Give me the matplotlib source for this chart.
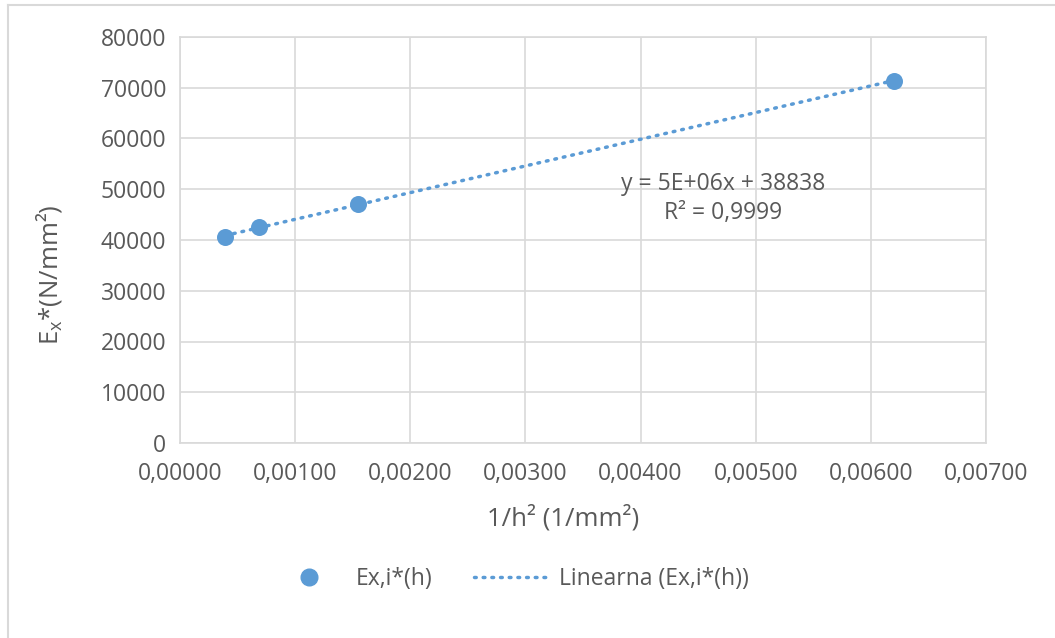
import numpy as np
import matplotlib
matplotlib.use("Agg")
import matplotlib.pyplot as plt
from matplotlib.lines import Line2D
from matplotlib.ticker import FuncFormatter, MultipleLocator

x_vals = [0.000391, 0.000687, 0.00155, 0.00620]
y_vals = [40650, 42560, 47090, 71390]
series_name = "Ex,i*(h)"
trend_name = "Linearna (Ex,i*(h))"
eq_text = "y = 5E+06x + 38838"
r2_text = "R² = 0,9999"

plt.rcParams['font.family'] = ['Open Sans', 'DejaVu Sans']
gray = '#595959'
grid_c = '#d9d9d9'
blue = '#5b9bd5'

W, H = 1055, 638
fig = plt.figure(figsize=(10.55, 6.38), dpi=100)
ax = fig.add_axes([180/W, 1-443/H, (986-180)/W, (443-37)/H])

ax.scatter(x_vals, y_vals, s=150, color=blue, zorder=3, linewidths=0)
coef = np.polyfit(x_vals, y_vals, 1)
xt = np.array([min(x_vals), max(x_vals)])
ax.plot(xt, np.polyval(coef, xt), color=blue, lw=2.5, linestyle=(0, (0.5, 2.0)),
        dash_capstyle='round', zorder=2)

ax.set_xlim(0, 0.007)
ax.set_ylim(0, 80000)
ax.xaxis.set_major_locator(MultipleLocator(0.001))
ax.yaxis.set_major_locator(MultipleLocator(10000))
ax.xaxis.set_major_formatter(FuncFormatter(lambda v, p: f"{v:.5f}".replace('.', ',')))
ax.yaxis.set_major_formatter(FuncFormatter(lambda v, p: f"{v:.0f}"))
ax.grid(True, color=grid_c, lw=1.2)
ax.set_axisbelow(True)
for s in ax.spines.values():
    s.set_color(grid_c)
    s.set_linewidth(1.2)
ax.tick_params(length=0, labelsize=16.5, colors=gray, pad=10)
ax.tick_params(axis='x', pad=14)

fig.text(563/W, 1-518/H, "1/h² (1/mm²)", ha='center', va='center', fontsize=18.5, color=gray)
fig.text(49/W, 1-275/H, r"E$_\mathregular{x}$*(N/mm²)", ha='center', va='center',
         rotation=90, fontsize=18.5, color=gray)

ax.text(0.004716, 51030, eq_text, ha='center', va='center', fontsize=16.5, color=gray)
ax.text(0.004716, 45320, r2_text, ha='center', va='center', fontsize=16.5, color=gray)

handles = [Line2D([], [], marker='o', linestyle='none', color=blue, markersize=12),
           Line2D([], [], color=blue, lw=2.5, linestyle=(0, (0.5, 2.0)), dash_capstyle='round')]
fig.legend(handles, [series_name, trend_name], loc='center', bbox_to_anchor=(510/W, 1-579/H),
           ncol=2, frameon=False, fontsize=16.5, labelcolor=gray, handlelength=3.27,
           columnspacing=1.83, handletextpad=0.4, borderpad=0, borderaxespad=0)

# outer chart border
fig.add_artist(Line2D([8/W, 8/W], [0, 1-5/H], color=grid_c, lw=1.5))
fig.add_artist(Line2D([8/W, 1], [1-5/H, 1-5/H], color=grid_c, lw=1.5))

fig.savefig("out.png", dpi=100)
